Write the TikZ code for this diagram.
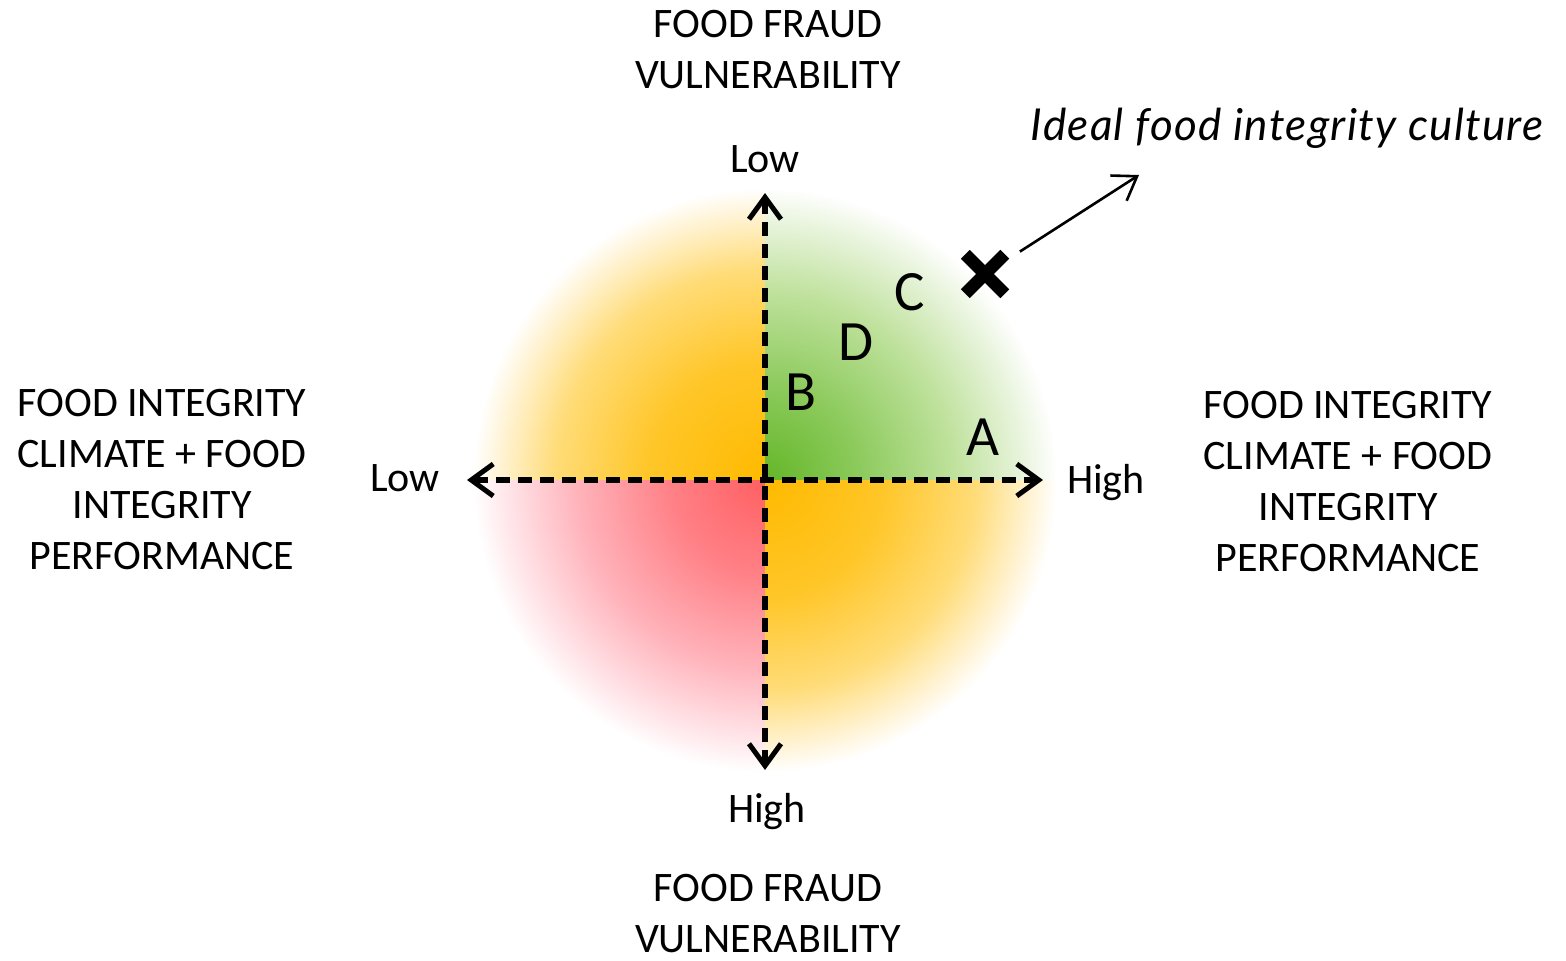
\documentclass[tikz,border=0pt]{standalone}
\usepackage{fontspec}
\setmainfont{Carlito}
\newfontfamily\handfont{Lato}[LetterSpace=3]
\usetikzlibrary{arrows.meta,shapes.misc}

% quadrant colours, fading from the centre to white at the rim
\definecolor{orA}{RGB}{255,186,0}
\definecolor{orB}{RGB}{255,198,40}
\definecolor{orC}{RGB}{255,220,120}
\definecolor{orD}{RGB}{255,242,208}
\definecolor{grA}{RGB}{100,182,40}
\definecolor{grB}{RGB}{140,202,92}
\definecolor{grC}{RGB}{190,225,155}
\definecolor{grD}{RGB}{232,244,220}
\definecolor{rdA}{RGB}{255,96,98}
\definecolor{rdB}{RGB}{255,128,134}
\definecolor{rdC}{RGB}{255,178,186}
\definecolor{rdD}{RGB}{255,228,232}

\pgfdeclareradialshading{orangequad}{\pgfpointorigin}{color(0bp)=(orA); color(10bp)=(orB); color(18bp)=(orC); color(22.5bp)=(orD); color(25bp)=(white); color(50bp)=(white)}
\pgfdeclareradialshading{greenquad}{\pgfpointorigin}{color(0bp)=(grA); color(8bp)=(grB); color(16bp)=(grC); color(22bp)=(grD); color(25bp)=(white); color(50bp)=(white)}
\pgfdeclareradialshading{redquad}{\pgfpointorigin}{color(0bp)=(rdA); color(8bp)=(rdB); color(16bp)=(rdC); color(22bp)=(rdD); color(25bp)=(white); color(50bp)=(white)}

\tikzset{
  label42/.style={inner sep=0pt, font=\fontsize{42}{51}\selectfont},
  block/.style={label42, align=center, anchor=north},
  letter/.style={inner sep=0pt, anchor=base, font=\fontsize{57}{60}\selectfont},
  axis/.style={line width=5.5pt, dash pattern=on 14pt off 8pt,
    {Straight Barb[length=22pt,width=32pt,line width=5pt]}-{Straight Barb[length=22pt,width=32pt,line width=5pt]}},
  pointer/.style={line width=2.6pt, -{Straight Barb[length=22pt,width=30pt,line width=2.6pt]}},
  ideal/.style={cross out, draw, line width=12.5pt, minimum size=27pt, inner sep=0pt}
}

\begin{document}
\begin{tikzpicture}[x=1pt,y=-1pt]
\useasboundingbox (0,0) rectangle (1566,961);
\fill[white] (0,0) rectangle (1566,961);

\coordinate (o) at (765,480);

% shaded quadrants
\begin{scope}
  \clip (o) rectangle (455,170);
  \shade[shading=orangequad] (o) circle (292);
\end{scope}
\begin{scope}
  \clip (o) rectangle (1075,170);
  \shade[shading=greenquad] (o) circle (292);
\end{scope}
\begin{scope}
  \clip (o) rectangle (455,790);
  \shade[shading=redquad] (o) circle (292);
\end{scope}
\begin{scope}
  \clip (o) rectangle (1075,790);
  \shade[shading=orangequad] (o) circle (292);
\end{scope}

% axes
\coordinate (ytop) at (765,193);
\coordinate (ybot) at (765,770);
\coordinate (xlft) at (467,480);
\coordinate (xrgt) at (1043,480);
\draw[axis] (xlft) -- (xrgt);
\draw[axis] (ytop) -- (ybot);

% axis end labels
\node[label42, anchor=base] (lowtop) at (765,172) {Low};
\node[label42, anchor=base] (highbot) at (767,822) {High};
\node[label42, anchor=base] (lowlft) at (405,491) {Low};
\node[label42, anchor=base] (highrgt) at (1106,493) {High};

% axis titles
\node[block] (fftop) at (768,10) {FOOD FRAUD\\VULNERABILITY};
\node[block] (ffbot) at (768,874) {FOOD FRAUD\\VULNERABILITY};
\node[block] (filft) at (162,389) {FOOD INTEGRITY\\CLIMATE + FOOD\\INTEGRITY\\PERFORMANCE};
\node[block] (firgt) at (1348,391) {FOOD INTEGRITY\\CLIMATE + FOOD\\INTEGRITY\\PERFORMANCE};

% positions
\node[letter] (A) at (983,455) {A};
\node[letter] (B) at (801,410) {B};
\node[letter] (C) at (910,310) {C};
\node[letter] (D) at (856,360) {D};

% ideal point and its caption
\node[ideal] (cross) at (985,274) {};
\coordinate (tipc) at (1139,175);
\draw[pointer, shorten <=18pt] (cross) -- (tipc);
\node[inner sep=0pt, font=\handfont\itshape\fontsize{44}{48}\selectfont] (caption) at (1287,128) {Ideal food integrity culture};
\end{tikzpicture}
\end{document}
